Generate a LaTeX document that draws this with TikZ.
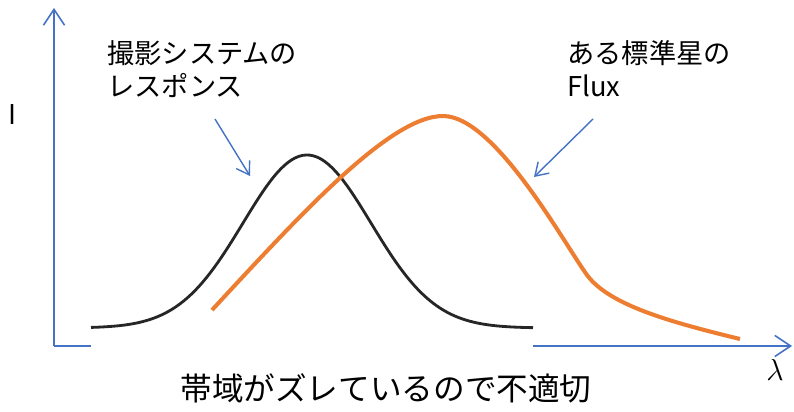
\documentclass[tikz,border=0pt]{standalone}
\usepackage{fontspec}
\newfontfamily\jp{Noto Sans CJK JP}
\usetikzlibrary{arrows.meta}
\definecolor{axisblue}{HTML}{4472C4}
\definecolor{fluxorange}{HTML}{ED7D31}
\tikzset{
  axis/.style={draw=axisblue, line width=0.9pt,
    -{Straight Barb[length=9pt,width=12pt,line width=0.9pt]}},
  callout/.style={draw=axisblue, line width=0.8pt,
    -{Straight Barb[length=7pt,width=9pt,line width=0.8pt]}},
  label/.style={font=\jp\fontsize{15.5}{18.7}\selectfont, align=left, inner sep=0pt},
}
\begin{document}
\begin{tikzpicture}[x=0.02cm, y=-0.02cm]
            \useasboundingbox (0,0) rectangle (794,412);

            \coordinate (O) at (54, 346);
            \coordinate (Ytop) at (54, 8);
            \coordinate (Xend) at (792, 346);

            \draw[axis] (O) -- (Ytop);
            \draw[axis] (O) -- (Xend);

            % pasted response image hides the axis here
            \fill[white] (91, 300) rectangle (533, 352);

            \node[label, anchor=center] (I) at (12, 115) {I};
            \node[anchor=center, font=\fontsize{17}{20}\selectfont] (lam) at (775, 370) {$\lambda$};

            % response of the camera system
            \draw[line width=1.6pt, black!85, domain=91:533, samples=120]
                plot ({\x}, {328 - 173*exp(-0.5*((\x-307)/64)^2)});

            % flux of the standard star
            \coordinate (F0) at (212, 310);
            \coordinate (Fpeak) at (443, 116);
            \coordinate (Fknee) at (587, 275);
            \coordinate (Fend) at (740, 339);
            \draw[fluxorange, line width=2.3pt]
                (F0) .. controls (300, 215) and (390, 116) .. (Fpeak)
                     .. controls (495, 116) and (565, 245) .. (Fknee)
                     .. controls (609, 305) and (670, 322) .. (Fend);

            \node[label, anchor=north west] (resp) at (107, 40) {撮影システムの\\レスポンス};
            \node[label, anchor=north west] (flux) at (567, 40) {ある標準星の\\Flux};

            \coordinate (respA) at (215, 119);
            \coordinate (respB) at (250, 176);
            \coordinate (fluxA) at (593, 119);
            \coordinate (fluxB) at (534, 177);
            \draw[callout] (respA) -- (respB);
            \draw[callout] (fluxA) -- (fluxB);

            \node[font=\jp\fontsize{18}{21}\selectfont, inner sep=0pt] (note) at (386, 388)
                {帯域がズレているので不適切};
        \end{tikzpicture}
\end{document}
